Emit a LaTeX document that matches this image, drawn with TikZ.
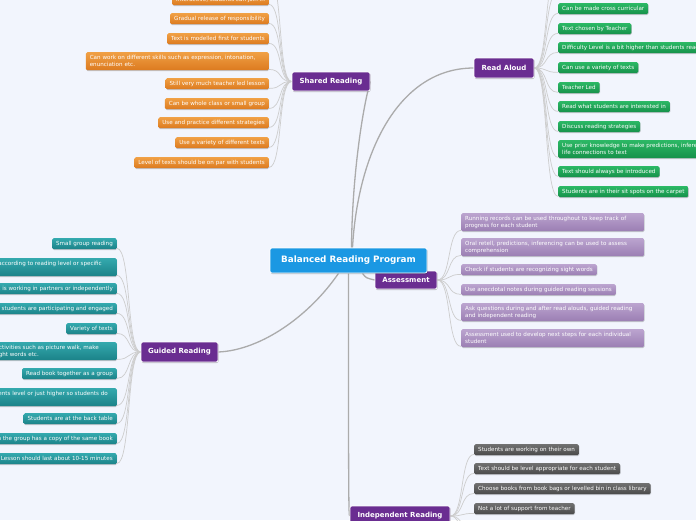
\documentclass[tikz,border=0pt]{standalone}
\usepackage{fontspec}
\setmainfont{DejaVu Sans}
\usetikzlibrary{shadows}
\definecolor{bgc}{HTML}{F2F5FD}
\definecolor{purp}{HTML}{6A2D91}
\definecolor{cblue}{HTML}{1B98E3}
\definecolor{orT}{HTML}{F0A045}
\definecolor{orB}{HTML}{DC7A1F}
\definecolor{grT}{HTML}{2CB865}
\definecolor{grB}{HTML}{16914A}
\definecolor{lvT}{HTML}{BBA4CF}
\definecolor{lvB}{HTML}{9B7EB3}
\definecolor{tlT}{HTML}{34A9AE}
\definecolor{tlB}{HTML}{1B8288}
\definecolor{dgT}{HTML}{707070}
\definecolor{dgB}{HTML}{4A4A4A}
\definecolor{mainln}{HTML}{ABABAB}
\definecolor{leafln}{HTML}{CDCDCD}
\pgfdeclarelayer{back}
\pgfdeclarelayer{lines}
\pgfsetlayers{back,lines,main}
\tikzset{
  leafbase/.style={rounded corners=1.5pt, inner xsep=4pt, font=\fontsize{5.6}{7}\selectfont, text=white,
    drop shadow={shadow xshift=0.4pt, shadow yshift=-0.8pt, opacity=0.2, fill=black}},
  one/.style={leafbase, inner ysep=2.75pt, text height=4.2pt, text depth=1.3pt},
  two/.style={leafbase, inner ysep=1.5pt, minimum height=18pt, text width=175pt, align=left},
  cuttxt/.style={font=\fontsize{5.6}{7}\selectfont, text=white, inner sep=0pt},
  shOr/.style={top color=orT, bottom color=orB},
  raGr/.style={top color=grT, bottom color=grB},
  asLv/.style={top color=lvT, bottom color=lvB},
  grTl/.style={top color=tlT, bottom color=tlB},
  irDg/.style={top color=dgT, bottom color=dgB},
  mainbox/.style={fill=purp, draw=white, line width=0.7pt, rounded corners=2pt, text=white,
    font=\bfseries\fontsize{7}{8}\selectfont, inner sep=0pt,
    drop shadow={shadow xshift=0.5pt, shadow yshift=-1pt, opacity=0.25, fill=black}},
  centerbox/.style={mainbox, fill=cblue, font=\bfseries\fontsize{8.8}{10}\selectfont},
  mainline/.style={draw=mainln, line width=1.3pt},
  leafline/.style={draw=leafln, line width=0.7pt}
}
\begin{document}
\begin{tikzpicture}[x=1pt,y=-1pt]
\useasboundingbox (0,0) rectangle (696,520);
\begin{pgfonlayer}{back}
\fill[bgc] (0,0) rectangle (696,520);
\end{pgfonlayer}
\begin{scope}
\clip (0,0) rectangle (696,520);
% Shared Reading children
\node[one,shOr,anchor=north east] (s0) at (269,-6) {Interactive, students can join in};
\node[one,shOr,anchor=north east] (s1) at (269,13) {Gradual release of responsibility};
\node[one,shOr,anchor=north east] (s2) at (269,33) {Text is modelled first for students};
\node[two,shOr,anchor=north east] (s3) at (269,52) {Can work on different skills such as expression, intonation,\\enunciation etc.};
\node[one,shOr,anchor=north east] (s4) at (269,78) {Still very much teacher led lesson};
\node[one,shOr,anchor=north east] (s5) at (269,98) {Can be whole class or small group};
\node[one,shOr,anchor=north east] (s6) at (269,117) {Use and practice different strategies};
\node[one,shOr,anchor=north east] (s7) at (269,137) {Use a variety of different texts};
\node[one,shOr,anchor=north east] (s8) at (269,157) {Level of texts should be on par with students};
\coordinate (sx) at (269,-22);
% Read Aloud children
\node[one,raGr,anchor=north west] (r1) at (558,3) {Can be made cross curricular};
\node[one,raGr,anchor=north west] (r2) at (558,23) {Text chosen by Teacher};
\node[one,raGr,anchor=north west] (r3) at (558,42) {Difficulty Level is a bit higher than students reading level};
\node[one,raGr,anchor=north west] (r4) at (558,62) {Can use a variety of texts};
\node[one,raGr,anchor=north west] (r5) at (558,82) {Teacher Led};
\node[one,raGr,anchor=north west] (r6) at (558,101) {Read what students are interested in};
\node[one,raGr,anchor=north west] (r7) at (558,121) {Discuss reading strategies};
\node[two,raGr,anchor=north west] (r8) at (558,140) {Use prior knowledge to make predictions, inferences, real\\life connections to text};
\node[one,raGr,anchor=north west] (r9) at (558,166) {Text should always be introduced};
\node[one,raGr,anchor=north west] (r10) at (558,186) {Students are in their sit spots on the carpet};
\coordinate (rx) at (558,-8);
\coordinate (ry) at (558,-28);
% Assessment children
\node[two,asLv,anchor=north west] (a1) at (461,213) {Running records can be used throughout to keep track of\\progress for each student};
\node[two,asLv,anchor=north west] (a2) at (461,238) {Oral retell, predictions, inferencing can be used to assess\\comprehension};
\node[one,asLv,anchor=north west] (a3) at (461,264) {Check if students are recognizing sight words};
\node[one,asLv,anchor=north west] (a4) at (461,284) {Use anecdotal notes during guided reading sessions};
\node[two,asLv,anchor=north west] (a5) at (461,303) {Ask questions during and after read alouds, guided reading\\and independent reading};
\node[two,asLv,anchor=north west] (a6) at (461,329) {Assessment used to develop next steps for each individual\\student};
% Guided Reading children
\node[one,grTl,anchor=north east] (g1) at (117,238) {Small group reading};
\node[two,grTl,anchor=north east] (g2) at (117,258) {};
\node[cuttxt,anchor=base east] (g2t) at (102,265.3) {Students are grouped according to reading level or specific};
\node[one,grTl,anchor=north east] (g3) at (117,283) {Rest of class is working in partners or independently};
\node[one,grTl,anchor=north east] (g4) at (117,303) {Make sure that students are participating and engaged};
\node[one,grTl,anchor=north east] (g5) at (117,323) {Variety of texts};
\node[two,grTl,anchor=north east] (g6) at (117,342) {};
\node[cuttxt,anchor=base east] (g6t) at (99,349.3) {Use pre-reading activities such as picture walk, make};
\node[cuttxt,anchor=base east] (g6u) at (39,356.3) {predictions, sight words etc.};
\node[one,grTl,anchor=north east] (g7) at (117,368) {Read book together as a group};
\node[two,grTl,anchor=north east] (g8) at (117,388) {};
\node[cuttxt,anchor=base east] (g8t) at (108,395.3) {Text is at students level or just higher so students do};
\node[one,grTl,anchor=north east] (g9) at (117,413) {Students are at the back table};
\node[one,grTl,anchor=north east] (g10) at (117,433) {Each student in the group has a copy of the same book};
\node[one,grTl,anchor=north east] (g11) at (117,453) {Lesson should last about 10-15 minutes};
% Independent Reading children
\node[one,irDg,anchor=north west] (i1) at (474,444) {Students are working on their own};
\node[one,irDg,anchor=north west] (i2) at (474,463) {Text should be level appropriate for each student};
\node[one,irDg,anchor=north west] (i3) at (474,483) {Choose books from book bags or levelled bin in class library};
\node[one,irDg,anchor=north west] (i4) at (474,503) {Not a lot of support from teacher};
\coordinate (ix) at (474,532);
\coordinate (iy) at (474,552);
% main topics
\node[mainbox, minimum width=78pt, minimum height=19pt] (sr) at (331,81.5) {Shared Reading};
\node[mainbox, minimum width=60pt, minimum height=20pt] (ra) at (504,68) {Read Aloud};
\node[mainbox, minimum width=62pt, minimum height=18pt] (as) at (406,280) {Assessment};
\node[mainbox, minimum width=77pt, minimum height=20pt] (gr) at (179.5,352) {Guided Reading};
\node[mainbox, minimum width=100pt, minimum height=20pt] (ir) at (400,516) {Independent Reading};
\node[centerbox, minimum width=157pt, minimum height=25pt] (c) at (348.5,260.5) {Balanced Reading Program};
\end{scope}
\begin{pgfonlayer}{lines}
\clip (0,0) rectangle (696,520);
% main connectors
\draw[mainline] ([xshift=3pt]c.north) .. controls (352,180) and (362,110) .. (sr.east);
\draw[mainline] ([xshift=4pt]c.north) .. controls (358,150) and (400,68) .. (ra.west);
\draw[mainline] ([xshift=-10pt]c.south) .. controls (310,315) and (262,350) .. (gr.east);
\draw[mainline] ([xshift=14pt]c.south) .. controls (366,278) .. (as.west);
\draw[mainline] (c.south) .. controls (348.5,470) and (348.5,516) .. (ir.west);
% leaf connectors
\foreach \n in {0,...,8}
  \draw[leafline] (sr.west) .. controls +(-14,0) and +(14,0) .. ([yshift=1pt]s\n.south east);
\draw[leafline] (sr.west) .. controls +(-14,0) and +(14,0) .. (sx);
\foreach \n in {1,...,10}
  \draw[leafline] (ra.east) .. controls +(14,0) and +(-14,0) .. ([yshift=1pt]r\n.south west);
\draw[leafline] (ra.east) .. controls +(14,0) and +(-14,0) .. (rx);
\draw[leafline] (ra.east) .. controls +(14,0) and +(-14,0) .. (ry);
\foreach \n in {1,...,6}
  \draw[leafline] (as.east) .. controls +(14,0) and +(-14,0) .. ([yshift=1pt]a\n.south west);
\foreach \n in {1,...,11}
  \draw[leafline] (gr.west) .. controls +(-14,0) and +(14,0) .. ([yshift=1pt]g\n.south east);
\foreach \n in {1,...,4}
  \draw[leafline] (ir.east) .. controls +(14,0) and +(-14,0) .. ([yshift=1pt]i\n.south west);
\draw[leafline] (ir.east) .. controls +(14,0) and +(-14,0) .. (ix);
\draw[leafline] (ir.east) .. controls +(14,0) and +(-14,0) .. (iy);
\end{pgfonlayer}
\end{tikzpicture}
\end{document}
